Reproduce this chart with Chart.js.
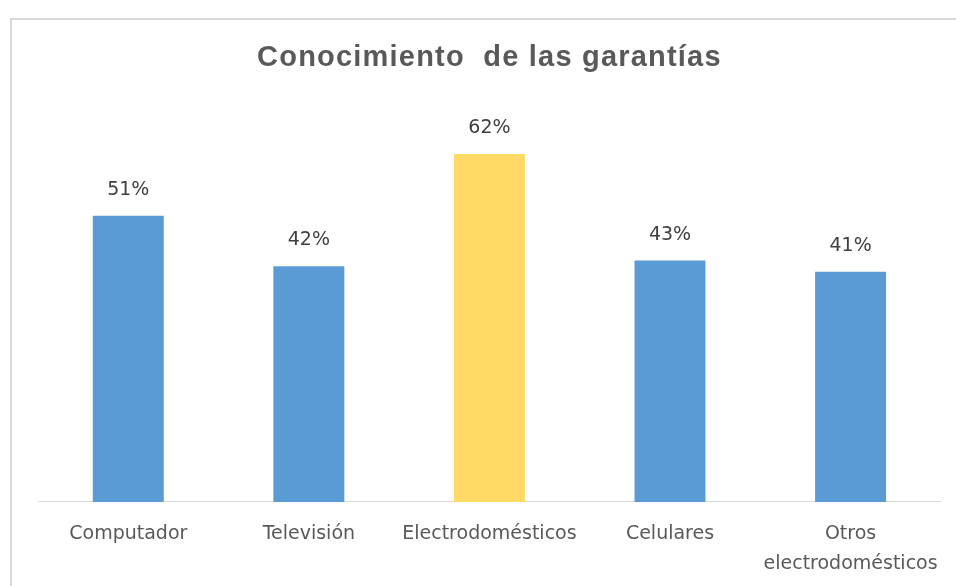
<!DOCTYPE html>
<html>
<head>
<meta charset="utf-8">
<script src="https://cdn.jsdelivr.net/npm/chart.js@4"></script>
<style>
  html, body { margin: 0; padding: 0; background: #fff; overflow: hidden; }
  #frame {
    position: absolute; left: 10px; top: 18px;
    width: 944px; height: 582px;
    border-left: 2px solid #d9d9d9; border-top: 2px solid #d9d9d9;
  }
</style>
</head>
<body>
<div id="frame"><canvas id="garantiasChart" width="944" height="582"></canvas></div>
<script>
// Categories and values
const categories = ["Computador", "Televisión", "Electrodomésticos", "Celulares", ["Otros", "electrodomésticos"]];
const percentages = [51, 42, 62, 43, 41];
const barColors = ["#5B9BD5", "#5B9BD5", "#FFD966", "#5B9BD5", "#5B9BD5"];
const chartTitle = "Conocimiento  de las garantías";

// Writes the % value above each bar and the (letter-spaced) title
const labelsPlugin = {
  id: "labelsPlugin",
  afterDatasetsDraw(chart) {
    const ctx = chart.ctx;
    const meta = chart.getDatasetMeta(0);
    ctx.save();
    ctx.font = "19px 'DejaVu Sans'";
    ctx.fillStyle = "#404040";
    ctx.textAlign = "center";
    ctx.textBaseline = "middle";
    meta.data.forEach((bar, i) => {
      ctx.fillText(percentages[i] + "%", bar.x, bar.y - 26);
    });

    // title
    const area = chart.chartArea;
    ctx.font = "bold 29px 'Liberation Sans'";
    ctx.fillStyle = "#595959";
    ctx.letterSpacing = "1.2px";
    ctx.fillText(chartTitle, (area.left + area.right) / 2, 38);
    ctx.restore();
  }
};

const ctx = document.getElementById("garantiasChart").getContext("2d");
new Chart(ctx, {
  type: "bar",
  data: {
    labels: categories,
    datasets: [{
      data: percentages,
      backgroundColor: barColors,
      borderWidth: 0,
      barPercentage: 0.393,
      categoryPercentage: 1
    }]
  },
  options: {
    responsive: false,
    animation: false,
    layout: { padding: { left: 26, right: 14, top: 89, bottom: 6 } },
    plugins: {
      legend: { display: false },
      tooltip: { enabled: false },
      title: { display: false }
    },
    scales: {
      y: { display: false, min: 0, max: 70 },
      x: {
        grid: { display: false, drawTicks: false },
        border: { display: true, color: "#d9d9d9", width: 1 },
        ticks: {
          color: "#595959",
          padding: 17,
          maxRotation: 0,
          font: { family: "DejaVu Sans", size: 19, lineHeight: 1.58 }
        }
      }
    }
  },
  plugins: [labelsPlugin]
});
</script>
</body>
</html>
